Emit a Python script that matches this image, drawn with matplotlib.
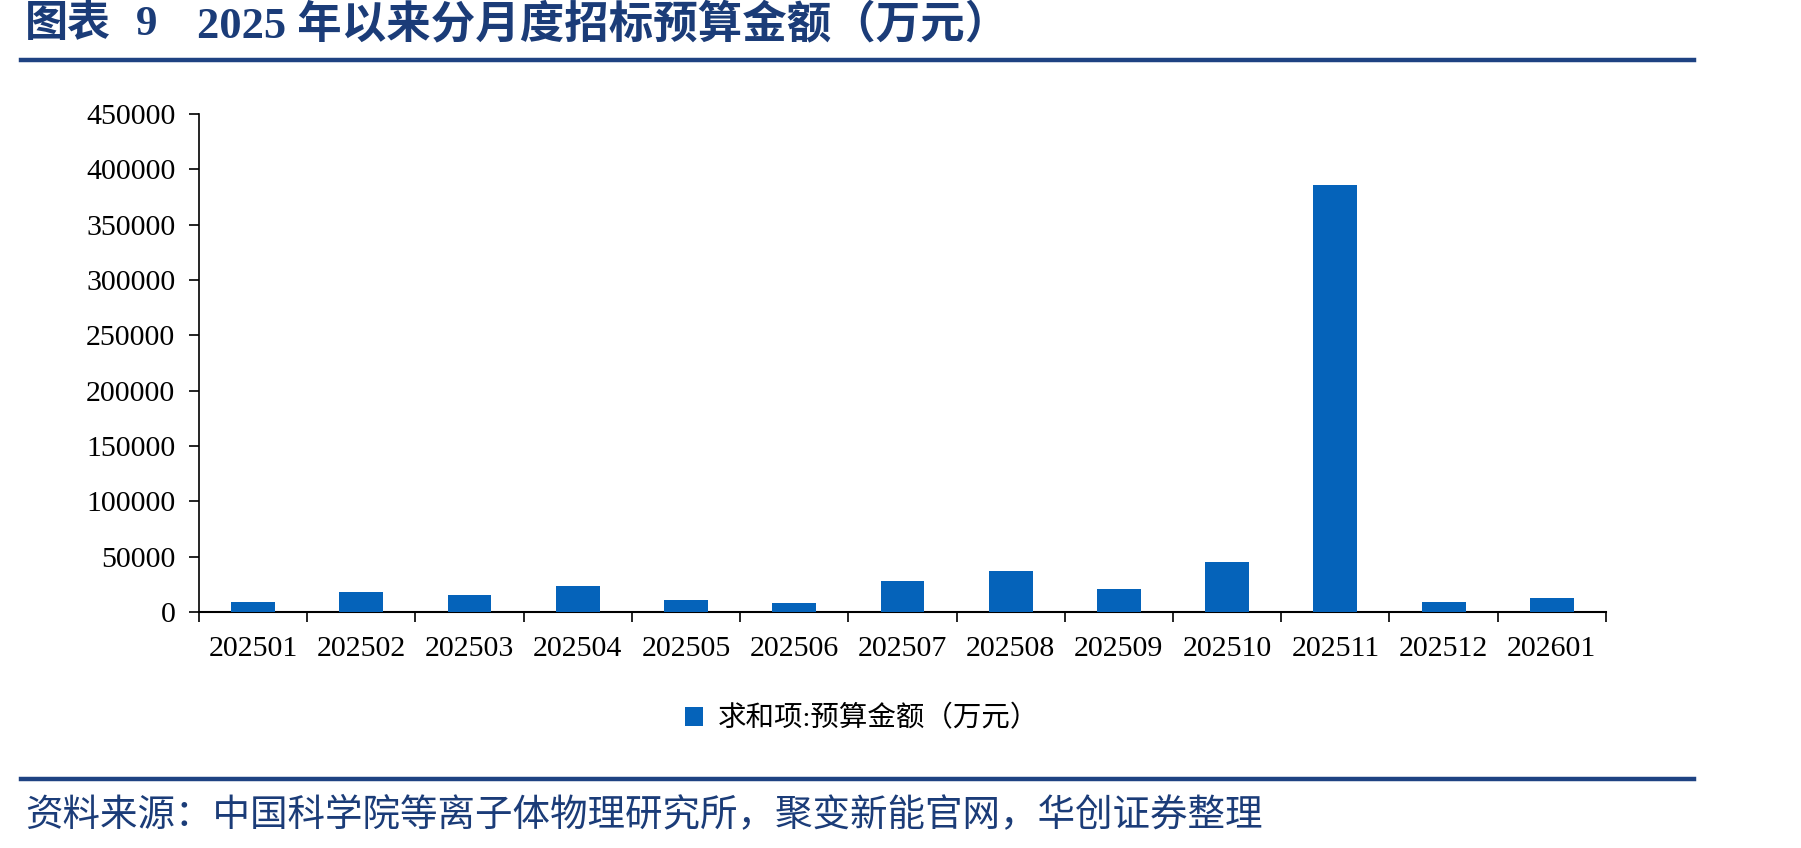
import matplotlib
matplotlib.use('Agg')
import matplotlib.pyplot as plt
from matplotlib.lines import Line2D
import numpy as np

# data
months = ['202501', '202502', '202503', '202504', '202505', '202506', '202507',
          '202508', '202509', '202510', '202511', '202512', '202601']
budget = [9200, 18000, 15400, 23600, 10700, 7700, 28200,
          36900, 20700, 45000, 386000, 8900, 12200]
y_ticks = [0, 50000, 100000, 150000, 200000, 250000, 300000, 350000, 400000, 450000]

title_a = '图表'
title_num = '9'
title_txt = '2025 年以来分月度招标预算金额（万元）'
legend_label = '求和项:预算金额（万元）'
source_txt = '资料来源：中国科学院等离子体物理研究所，聚变新能官网，华创证券整理'

serif_cjk = ['Liberation Serif', 'Noto Sans CJK SC']
navy = '#1B3C78'
bar_color = '#0563BA'

plt.rcParams['font.family'] = serif_cjk

fig = plt.figure(figsize=(18.01, 8.48), dpi=100)
ax = fig.add_axes([0.1105, 0.2783, 0.7812, 0.5873])

x = np.arange(len(months))
bars = ax.bar(x, budget, width=0.405, color=bar_color, zorder=3)

ax.set_xlim(-0.5, len(months) - 0.5)
ax.set_ylim(0, 450000)
ax.set_yticks(y_ticks)
ax.set_yticklabels([str(v) for v in y_ticks])

# category boundaries carry the tick marks, centres carry the labels
ax.set_xticks(np.arange(len(months) + 1) - 0.5)
ax.set_xticklabels([])
ax.set_xticks(x, minor=True)
ax.set_xticklabels(months, minor=True)
ax.tick_params(axis='x', which='major', direction='out', length=7, width=1.2)
ax.tick_params(axis='x', which='minor', length=0, pad=17, labelsize=21.5)
ax.tick_params(axis='y', direction='out', length=7, width=1.2, pad=10, labelsize=21.5)

for side in ['top', 'right']:
    ax.spines[side].set_visible(False)
ax.spines['left'].set_linewidth(1.2)
ax.spines['bottom'].set_linewidth(1.5)

# legend
fig.legend([bars], [legend_label], loc='center', bbox_to_anchor=(0.4786, 0.152),
           frameon=False, handlelength=0.65, handleheight=0.65, handletextpad=0.5,
           prop={'family': serif_cjk, 'size': 20.5})

# header / footer
fig.text(0.0139, 0.9705, title_a, fontsize=31, fontweight='bold', color=navy,
         va='center', ha='left')
fig.text(0.0753, 0.9705, title_num, fontsize=31, fontweight='bold', color=navy,
         va='center', ha='left')
fig.text(0.1095, 0.9705, title_txt, fontsize=32, fontweight='bold', color=navy,
         va='center', ha='left')
fig.add_artist(Line2D([0.0117, 0.9406], [0.9292, 0.9292], transform=fig.transFigure,
                      color='#1E4282', linewidth=3.2))
fig.add_artist(Line2D([0.0117, 0.9406], [0.0814, 0.0814], transform=fig.transFigure,
                      color='#1E4282', linewidth=3.2))
fig.text(0.0139, 0.039, source_txt, fontsize=27, color=navy, va='center', ha='left',
         family=['Noto Sans CJK SC', 'DejaVu Sans'])

plt.savefig('out.png', dpi=100)
plt.close()
